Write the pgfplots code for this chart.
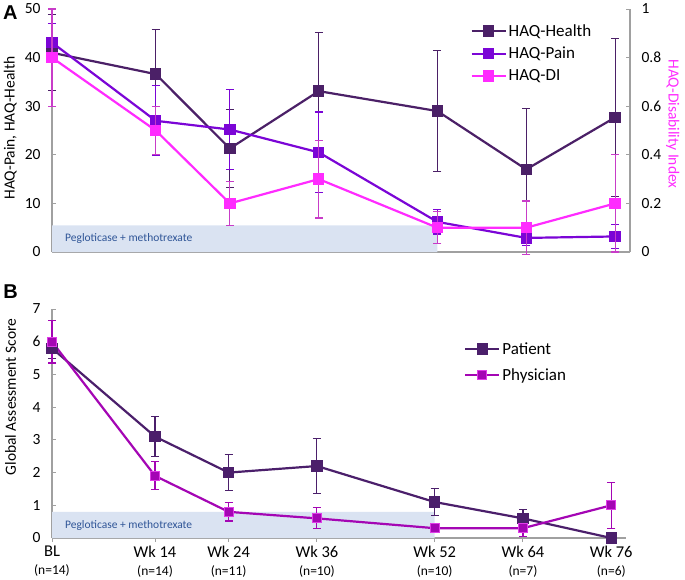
\documentclass[border=0pt]{standalone}
\usepackage{pgfplots}
\usepackage{pgfplotstable}
\pgfplotsset{compat=1.18}
\usepackage{fontspec}
\setmainfont{Carlito}
\newfontfamily\panelfont{Liberation Sans}

\definecolor{axgray}{HTML}{A0A0A0}
\definecolor{health}{HTML}{4B2067}
\definecolor{pain}{HTML}{7B05D6}
\definecolor{di}{HTML}{FF2BFF}
\definecolor{dierr}{HTML}{C83CC8}
\definecolor{patient}{HTML}{4B1F6B}
\definecolor{physician}{HTML}{A406B4}
\definecolor{physborder}{HTML}{E03CE8}
\definecolor{shade}{HTML}{DAE3F2}
\definecolor{shadetext}{HTML}{2F5597}

% panel A: weeks, HAQ-Health, HAQ-Pain (left axis), HAQ-DI (right axis), errors
\pgfplotstableread{
wk  health healthe pain paine di   die
0   41.0   7.8     43.1 4.0   0.80 0.20
14  36.6   9.1     27.0 7.2   0.50 0.10
24  21.3   8.1     25.2 8.3   0.20 0.09
36  33.1   12.0    20.5 8.3   0.30 0.16
52  29.0   12.4    6.2  2.5   0.10 0.065
64  17.0   12.5    2.9  1.5   0.10 0.11
76  27.7   16.3    3.2  2.5   0.20 0.20
}\haqdata

% panel B: global assessment
\pgfplotstableread{
wk  pat  pate phy  phye
0   5.8  0.30 6.0  0.65
14  3.1  0.62 1.9  0.43
24  2.0  0.55 0.8  0.28
36  2.2  0.85 0.6  0.32
52  1.1  0.40 0.3  0.10
64  0.6  0.28 0.3  0.25
76  0.0  0.00 1.0  0.70
}\gadata

\tikzset{shadelabel/.style={anchor=west, text=shadetext,
  font=\fontsize{11.5}{13}\selectfont}}

\newcommand{\nlab}[2]{#1\\[0pt]{\fontsize{13.5}{14}\selectfont(n=#2)}}

\pgfplotsset{
  base/.style={
    scale only axis, xmin=0, xmax=78, clip=false,
    axis line style={draw=axgray, line width=1.2pt},
    tick style={draw=axgray, line width=1pt},
    major tick length=4pt, tick align=inside,
    tick label style={font=\fontsize{15.5}{17}\selectfont},
    /pgf/number format/assume math mode=true,
    label style={font=\fontsize{15.5}{17}\selectfont},
    legend cell align=left,
    legend image code/.code={
      \draw[mark repeat=2, mark phase=2, #1]
        plot coordinates {(0pt,0pt) (17pt,0pt) (34pt,0pt)};},
  },
  ser/.style={color=#1, line width=2.2pt, mark=square*, mark size=4.6pt,
    mark options={solid, fill=#1}},
  eb/.style={error bars/.cd, y dir=both, y explicit,
    error bar style={line width=1.1pt, color=#1},
    error mark options={rotate=90, line width=1.1pt, color=#1, mark size=4pt}},
}

\begin{document}
\begin{tikzpicture}
\useasboundingbox (0,0) rectangle (685pt,-579pt);

% ---------------- panel A ----------------
\begin{axis}[base,
  at={(52pt,-252pt)}, anchor=south west, width=578pt, height=243pt,
  ymin=0, ymax=50, ytick={0,10,...,50},
  yticklabel style={xshift=-8pt},
  axis y line*=left, axis x line*=bottom, xtick=\empty,
  ylabel={HAQ-Pain, HAQ-Health},
  ylabel style={at={(axis description cs:-0.072,0.51)}, anchor=center},
]
\addplot[fill=shade, draw=none, forget plot]
  coordinates {(0,0) (52,0) (52,5.5) (0,5.5)} \closedcycle;
\node[shadelabel] at (axis cs:1.3,2.7) {Pegloticase + methotrexate};
\node[font=\panelfont\bfseries\fontsize{20}{22}\selectfont]
  at (axis description cs:-0.072,0.985) {A};
\addplot[ser=health, eb=health] table[x=wk, y=health, y error=healthe] {\haqdata};
\addplot[ser=pain, eb=pain] table[x=wk, y=pain, y error=paine] {\haqdata};
\end{axis}

\begin{axis}[base,
  at={(52pt,-252pt)}, anchor=south west, width=578pt, height=243pt,
  ymin=0, ymax=1, ytick={0,0.2,...,1},
  yticklabel style={/pgf/number format/fixed, xshift=8pt},
  axis y line*=right, axis x line=none,
  ylabel={HAQ-Disability Index},
  ylabel style={at={(axis description cs:1.074,0.527)}, anchor=center,
    rotate=180, text=di},
  legend style={draw=none, fill=none, at={(axis description cs:0.722,0.95)},
    anchor=north west, font=\fontsize{17}{19}\selectfont, row sep=5.5pt,
    inner sep=1pt},
]
\addlegendimage{ser=health}
\addlegendentry{HAQ-Health}
\addlegendimage{ser=pain}
\addlegendentry{HAQ-Pain}
\addplot[ser=di, eb=dierr] table[x=wk, y=di, y error=die] {\haqdata};
\addlegendentry{HAQ-DI}
\end{axis}

% ---------------- panel B ----------------
\begin{axis}[base,
  at={(52pt,-538pt)}, anchor=south west, width=574pt, height=229pt,
  ymin=0, ymax=7, ytick={0,1,...,7},
  yticklabel style={xshift=-8pt},
  axis y line*=left, axis x line*=bottom,
  xtick={0,14,24,36,52,64,76},
  xtick align=outside,
  xticklabel style={align=center, font=\fontsize{16.5}{18}\selectfont},
  xticklabels={{\nlab{BL}{14}}, {\nlab{Wk 14}{14}}, {\nlab{Wk 24}{11}},
    {\nlab{Wk 36}{10}}, {\nlab{Wk 52}{10}}, {\nlab{Wk 64}{7}},
    {\nlab{Wk 76}{6}}},
  ylabel={Global Assessment Score},
  ylabel style={at={(axis description cs:-0.072,0.616)}, anchor=center},
  legend style={draw=none, fill=none, at={(axis description cs:0.716,0.868)},
    anchor=north west, font=\fontsize{17}{19}\selectfont, row sep=9pt,
    inner sep=1pt},
]
\addplot[fill=shade, draw=none, forget plot]
  coordinates {(0,0) (52,0) (52,0.8) (0,0.8)} \closedcycle;
\node[shadelabel] at (axis cs:1.3,0.37) {Pegloticase + methotrexate};
\node[font=\panelfont\bfseries\fontsize{20}{22}\selectfont]
  at (axis description cs:-0.072,1.075) {B};
\addplot[ser=patient, eb=patient] table[x=wk, y=pat, y error=pate] {\gadata};
\addlegendentry{Patient}
\addplot[color=physician, line width=2.2pt, mark=square*, mark size=4.6pt,
  mark options={solid, fill=physician, draw=physborder, line width=1pt},
  eb=physician] table[x=wk, y=phy, y error=phye] {\gadata};
\addlegendentry{Physician}
\end{axis}
\end{tikzpicture}
\end{document}
